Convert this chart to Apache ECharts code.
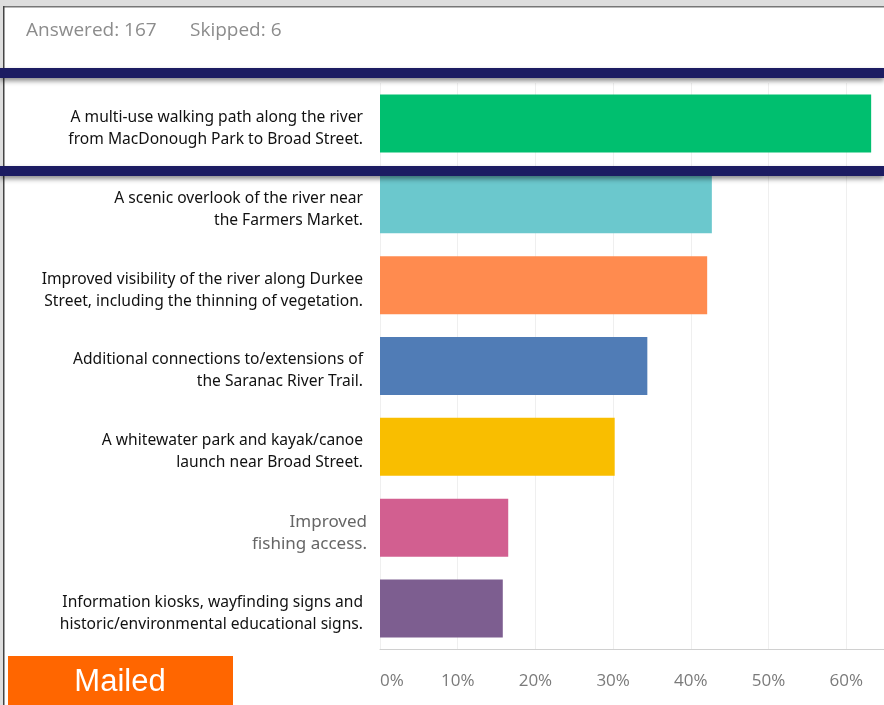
<!DOCTYPE html>
<html>
<head>
<meta charset="utf-8">
<script src="https://cdn.jsdelivr.net/npm/echarts@6/dist/echarts.min.js"></script>
<style>
html,body{margin:0;padding:0;background:#fff;}
#main{width:884px;height:705px;}
</style>
</head>
<body>
<div id="main"></div>
<script>
const categories = [
  'A multi-use walking path along the river\nfrom MacDonough Park to Broad Street.',
  'A scenic overlook of the river near\nthe Farmers Market.',
  'Improved visibility of the river along Durkee\nStreet, including the thinning of vegetation.',
  'Additional connections to/extensions of\nthe Saranac River Trail.',
  'A whitewater park and kayak/canoe\nlaunch near Broad Street.',
  'Improved\nfishing access.',
  'Information kiosks, wayfinding signs and\nhistoric/environmental educational signs.'
];
const values = [63.2, 42.7, 42.1, 34.4, 30.2, 16.5, 15.8];
const barColors = ['#00bf6f', '#6bc8cd', '#ff8b4f', '#507cb6', '#f9be00', '#d25f90', '#7d5e90'];
const headerAnswered = 'Answered: 167';
const headerSkipped = 'Skipped: 6';
const stampText = 'Mailed';

const chart = echarts.init(document.getElementById('main'));
const navyBand = (y) => ({
  type: 'rect', z: 100,
  shape: {x: 0, y: y, width: 884, height: 10},
  style: {fill: '#1c1c62', shadowBlur: 5, shadowColor: 'rgba(0,0,0,0.45)', shadowOffsetY: 3}
});
chart.setOption({
  backgroundColor: '#ffffff',
  animation: false,
  grid: {left: 380, top: 83, height: 566, width: 544, outerBoundsMode: 'none', containLabel: false},
  xAxis: {
    type: 'value', min: 0, max: 70, interval: 10,
    axisLine: {show: true, lineStyle: {color: '#d0d0d0', width: 1}},
    axisTick: {show: false},
    splitLine: {show: true, lineStyle: {color: '#efefef', width: 1}},
    axisLabel: {
      formatter: '{value}%', color: '#7a7a7a', fontSize: 17,
      fontFamily: 'Open Sans', margin: 24, alignMinLabel: 'left'
    }
  },
  yAxis: {
    type: 'category', inverse: true, data: categories,
    axisLine: {show: false}, axisTick: {show: false},
    axisLabel: {
      margin: 17, align: 'right', padding: [10, 0, 0, 0],
      formatter: function (v) {
        if (v.indexOf('fishing') >= 0) return '{g|' + v.split('\n').join('}\n{g|') + '}';
        return '{n|' + v.split('\n').join('}\n{n|') + '}';
      },
      rich: {
        n: {fontFamily: 'Noto Sans', fontSize: 15.6, color: '#111', lineHeight: 22, align: 'right'},
        g: {fontFamily: 'Noto Sans', fontSize: 17, color: '#666', lineHeight: 22, align: 'right', padding: [0, -4, 0, 0]}
      }
    }
  },
  series: [{
    type: 'bar', barWidth: 58,
    data: values.map((v, i) => ({value: v, itemStyle: {color: barColors[i]}})),
    silent: true
  }],
  graphic: [
    {type: 'rect', z: 90, shape: {x: 0, y: 0, width: 884, height: 6}, style: {fill: '#dedede'}},
    {type: 'rect', z: 90, shape: {x: 0, y: 0, width: 3, height: 705}, style: {fill: '#dedede'}},
    {type: 'rect', z: 91, shape: {x: 3, y: 6, width: 881, height: 1.5}, style: {fill: '#777'}},
    {type: 'rect', z: 91, shape: {x: 3, y: 6, width: 1.5, height: 699}, style: {fill: '#444'}},
    {type: 'text', z: 92, left: 26, top: 21, style: {text: headerAnswered, fill: '#8c8c8c', font: '19px "Open Sans"'}},
    {type: 'text', z: 92, left: 190, top: 21, style: {text: headerSkipped, fill: '#8c8c8c', font: '19px "Open Sans"'}},
    navyBand(68),
    navyBand(166),
    {type: 'rect', z: 95, shape: {x: 8, y: 656, width: 225, height: 49}, style: {fill: '#ff6600'}},
    {type: 'text', z: 96, x: 120, y: 682, style: {text: stampText, fill: '#ffffff', font: '31px "Liberation Sans Narrow", "Liberation Sans"', textAlign: 'center', textVerticalAlign: 'middle'}}
  ]
});
</script>
</body>
</html>
